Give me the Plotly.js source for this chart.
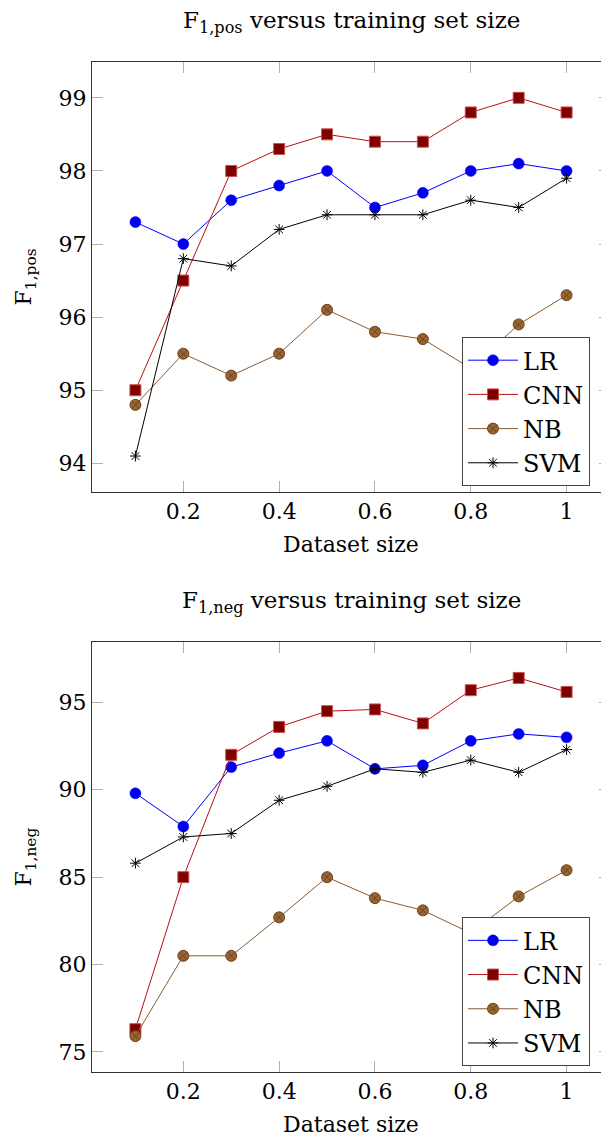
<!DOCTYPE html>
<html>
<head>
<meta charset="utf-8">
<script src="https://cdn.plot.ly/plotly-3.0.1.min.js"></script>
<style>
html,body{margin:0;padding:0;overflow:hidden;background:#fff;}
#chart{width:612px;height:1138px;}
</style>
</head>
<body>
<div id="chart"></div>
<script>
const sizes = [0.1, 0.2, 0.3, 0.4, 0.5, 0.6, 0.7, 0.8, 0.9, 1.0];
const seriesNames = ["LR", "CNN", "NB", "SVM"];

// F1,pos
const posLR  = [97.3, 97.0, 97.6, 97.8, 98.0, 97.5, 97.7, 98.0, 98.1, 98.0];
const posCNN = [95.0, 96.5, 98.0, 98.3, 98.5, 98.4, 98.4, 98.8, 99.0, 98.8];
const posNB  = [94.8, 95.5, 95.2, 95.5, 96.1, 95.8, 95.7, 95.3, 95.9, 96.3];
const posSVM = [94.1, 96.8, 96.7, 97.2, 97.4, 97.4, 97.4, 97.6, 97.5, 97.9];

// F1,neg
const negLR  = [89.8, 87.9, 91.3, 92.1, 92.8, 91.2, 91.4, 92.8, 93.2, 93.0];
const negCNN = [76.3, 85.0, 92.0, 93.6, 94.5, 94.6, 93.8, 95.7, 96.4, 95.6];
const negNB  = [75.9, 80.5, 80.5, 82.7, 85.0, 83.8, 83.1, 81.8, 83.9, 85.4];
const negSVM = [85.8, 87.3, 87.5, 89.4, 90.2, 91.2, 91.0, 91.7, 91.0, 92.3];

const xTickVals = [0.2, 0.4, 0.6, 0.8, 1];
const xTickText = ["0.2", "0.4", "0.6", "0.8", "1"];
const posTicks = [94, 95, 96, 97, 98, 99];
const negTicks = [75, 80, 85, 90, 95];

const FONT = "DejaVu Serif";

const styles = {
  LR:  {line: {color: "#0000ff", width: 1}, marker: {symbol: "circle", size: 11, color: "#0000ee", line: {color: "#0000ff", width: 0.5}}},
  CNN: {line: {color: "#b81010", width: 1}, marker: {symbol: "square", size: 11, color: "#800000", line: {color: "#c85050", width: 1}}},
  NB:  {line: {color: "#8b5a2b", width: 1}, marker: {symbol: "circle-x", size: 11, color: "#9a6430", line: {color: "#6b4420", width: 1}}},
  SVM: {line: {color: "#000000", width: 1}, marker: {symbol: "asterisk-open", size: 9, color: "#000000", line: {color: "#000000", width: 1}}}
};

function mk(name, ys, xa, ya, leg) {
  const s = styles[name];
  return {x: sizes, y: ys, name: name, type: "scatter", mode: "lines+markers",
          xaxis: xa, yaxis: ya, legend: leg, line: s.line, marker: s.marker};
}

const posData = [posLR, posCNN, posNB, posSVM];
const negData = [negLR, negCNN, negNB, negSVM];
const traces = [];
seriesNames.forEach((n, i) => traces.push(mk(n, posData[i], "x", "y", "legend")));
seriesNames.forEach((n, i) => traces.push(mk(n, negData[i], "x2", "y2", "legend2")));

const axBase = {
  showgrid: false, zeroline: false, showline: true, linecolor: "#333", linewidth: 1,
  mirror: "allticks", ticks: "inside", ticklen: 11, tickcolor: "#b0b0b0", tickwidth: 1,
  tickfont: {family: FONT, size: 22, color: "#000"}
};

const xr = [0.0094, 1.0906];
const topDom = [0.5744, 1];
const botDom = [0, 0.4256];

const legBase = {
  font: {family: FONT, size: 24, color: "#000"}, bordercolor: "#444", borderwidth: 1,
  bgcolor: "#fff", xanchor: "left", yanchor: "top", itemwidth: 50, tracegroupgap: 0
};

const layout = {
  width: 612, height: 1138,
  margin: {l: 92, r: 2, t: 62, b: 66.3},
  paper_bgcolor: "#fff", plot_bgcolor: "#fff",
  font: {family: FONT, color: "#000"},
  xaxis: Object.assign({}, axBase, {domain: [0, 1], range: xr, anchor: "y", tickvals: xTickVals, ticktext: xTickText,
    title: {text: "Dataset size", font: {family: FONT, size: 22}, standoff: 13}}),
  yaxis: Object.assign({}, axBase, {domain: topDom, range: [93.61, 99.49], anchor: "x", tickvals: posTicks,
    title: {text: "F<sub>1,pos</sub>", font: {family: FONT, size: 22}, standoff: 20}}),
  xaxis2: Object.assign({}, axBase, {domain: [0, 1], range: xr, anchor: "y2", tickvals: xTickVals, ticktext: xTickText,
    title: {text: "Dataset size", font: {family: FONT, size: 22}, standoff: 13}}),
  yaxis2: Object.assign({}, axBase, {domain: botDom, range: [73.85, 98.45], anchor: "x2", tickvals: negTicks,
    title: {text: "F<sub>1,neg</sub>", font: {family: FONT, size: 22}, standoff: 20}}),
  legend: Object.assign({}, legBase, {x: (462 - 92) / 518, y: 1 - (337 - 62) / 1009.7}),
  legend2: Object.assign({}, legBase, {x: (462 - 92) / 518, y: 1 - (917 - 62) / 1009.7}),
  annotations: [
    {text: "F<sub>1,pos</sub> versus training set size", xref: "paper", yref: "paper", x: 0.5,
     y: 1 + (62 - 22) / 1009.7, xanchor: "center", yanchor: "middle", showarrow: false,
     font: {family: FONT, size: 23, color: "#000"}},
    {text: "F<sub>1,neg</sub> versus training set size", xref: "paper", yref: "paper", x: 0.5,
     y: 1 - (602 - 62) / 1009.7, xanchor: "center", yanchor: "middle", showarrow: false,
     font: {family: FONT, size: 23, color: "#000"}}
  ],
  showlegend: true
};

Plotly.newPlot("chart", traces, layout, {displayModeBar: false, staticPlot: true});
</script>
</body>
</html>
